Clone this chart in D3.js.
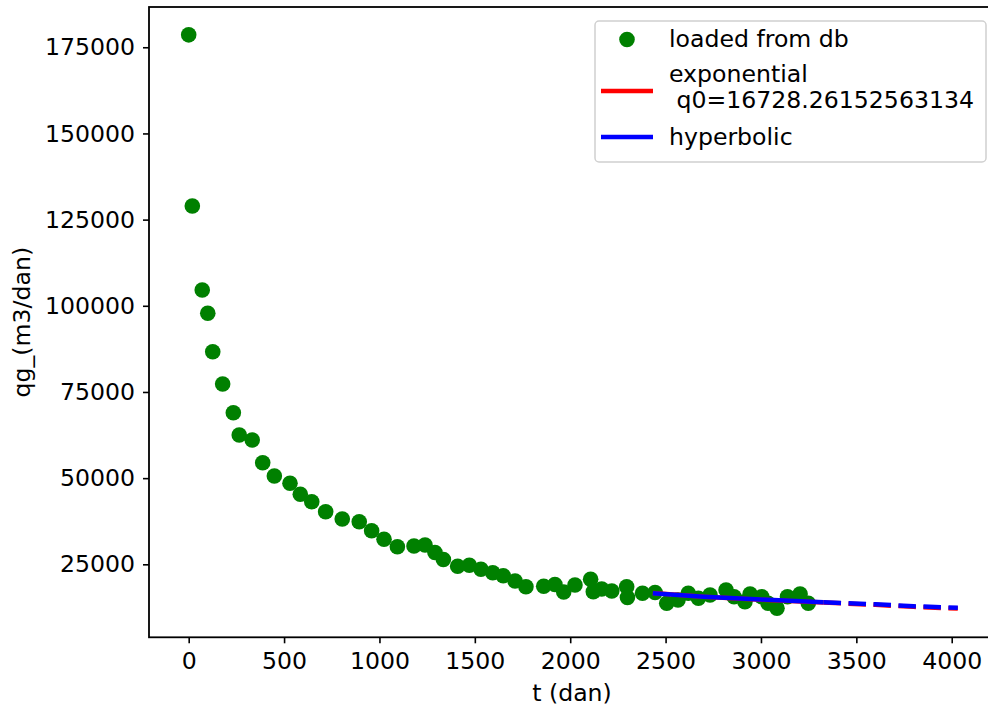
<!DOCTYPE html>
<html>
<head>
<meta charset="utf-8">
<script src="https://cdn.jsdelivr.net/npm/d3@7"></script>
<style>
  body { margin: 0; background: white; }
  text { font-family: "DejaVu Sans", sans-serif; }
</style>
</head>
<body>
<div id="chart"></div>
<script>
// data
var tDays = [0, 19, 71, 100, 126, 178, 234, 265, 333, 388, 449, 531, 585, 645, 718, 805, 894, 959, 1024, 1094,
             1181, 1239, 1291, 1335, 1410, 1471, 1532, 1594, 1649, 1711, 1768, 1861, 1920, 1966, 2025, 2107, 2121, 2165, 2218, 2296,
             2300, 2379, 2445, 2506, 2565, 2619, 2672, 2733, 2817, 2859, 2916, 2943, 3004, 3037, 3084, 3139, 3205, 3248];
var qgValues = [178600, 128950, 104580, 97820, 86680, 77310, 68990, 62520, 61070, 54480, 50620, 48500, 45310, 43170, 40270, 38150, 37370, 34750, 32260, 30110,
                30310, 30610, 28430, 26400, 24430, 24720, 23560, 22570, 21670, 20160, 18510, 18620, 19150, 16970, 19000, 20660, 17060, 17840, 17260, 18510,
                15380, 16590, 16830, 13690, 14650, 16590, 15140, 16100, 17550, 15610, 14160, 16390, 15610, 13690, 12240, 15610, 16390, 13690];

// fitted curves (fit range solid, forecast dashed)
var expFitT = [2433, 2700, 3000, 3328];
var expFitQ = [16700, 15560, 14720, 13900];
var expPredT = [3328, 3600, 3800, 4032];
var expPredQ = [13900, 13250, 12660, 12150];
var hypFitT = [2433, 2700, 3000, 3328];
var hypFitQ = [16594, 15578, 14795, 13983];
var hypPredT = [3328, 3600, 3800, 4032];
var hypPredQ = [13983, 13403, 12822, 12416];

var xTicks = [0, 500, 1000, 1500, 2000, 2500, 3000, 3500, 4000];
var yTicks = [25000, 50000, 75000, 100000, 125000, 150000, 175000];
var legendLabels = ["loaded from db", "exponential\n q0=16728.26152563134", "hyperbolic"];

var fs = 23.6;
var plotL = 149, plotT = 7, plotR = 997.5, plotB = 637.3;

var svg = d3.select("#chart")
            .append("svg")
            .attr("width", 988)
            .attr("height", 715)
            .style("background", "white");

var xScale = d3.scaleLinear()
               .domain([-208.1, 4240])
               .range([plotL, plotR]);
var yScale = d3.scaleLinear()
               .domain([3829, 186680])
               .range([plotB, plotT]);

// axes
var xAxis = svg.append("g")
               .attr("transform", "translate(0," + plotB + ")")
               .call(d3.axisBottom(xScale).tickValues(xTicks).tickFormat(d3.format("d"))
                     .tickSize(6).tickSizeOuter(0).tickPadding(9));
var yAxis = svg.append("g")
               .attr("transform", "translate(" + plotL + ",0)")
               .call(d3.axisLeft(yScale).tickValues(yTicks).tickFormat(d3.format("d"))
                     .tickSize(6).tickSizeOuter(0).tickPadding(8));
[xAxis, yAxis].forEach(function(a) {
    a.select(".domain").remove();
    a.selectAll(".tick line").attr("stroke", "black").attr("stroke-width", 1.6);
    a.selectAll(".tick text").style("font-size", fs + "px").attr("fill", "#000");
});

// scatter
var pts = tDays.map(function(t, i) { return {t: t, q: qgValues[i]}; });
svg.append("g")
   .selectAll("circle")
   .data(pts)
   .enter()
   .append("circle")
   .attr("cx", d => xScale(d.t))
   .attr("cy", d => yScale(d.q))
   .attr("r", 7.8)
   .style("fill", "green");

function curve(ts, qs) {
    return ts.map(function(t, i) { return [t, qs[i]]; });
}
var line = d3.line()
             .x(d => xScale(d[0]))
             .y(d => yScale(d[1]));

function drawCurve(ts, qs, color, dashed) {
    svg.append("path")
       .attr("d", line(curve(ts, qs)))
       .attr("fill", "none")
       .attr("stroke", color)
       .attr("stroke-width", 4.5)
       .attr("stroke-dasharray", dashed ? "17.5,7.5" : null);
}
drawCurve(expFitT, expFitQ, "red", false);
drawCurve(expPredT, expPredQ, "red", true);
drawCurve(hypFitT, hypFitQ, "blue", false);
drawCurve(hypPredT, hypPredQ, "blue", true);

// frame
svg.append("rect")
   .attr("x", plotL)
   .attr("y", plotT)
   .attr("width", plotR - plotL)
   .attr("height", plotB - plotT)
   .attr("fill", "none")
   .attr("stroke", "black")
   .attr("stroke-width", 1.8);

// axis labels
svg.append("text")
   .attr("x", 572)
   .attr("y", 701)
   .attr("text-anchor", "middle")
   .style("font-size", fs + "px")
   .text("t (dan)");
svg.append("text")
   .attr("transform", "translate(29.5," + (plotT + plotB) / 2 + ") rotate(-90)")
   .attr("text-anchor", "middle")
   .style("font-size", fs + "px")
   .text("qg_(m3/dan)");

// legend
var legend = svg.append("g");
legend.append("rect")
      .attr("x", 595)
      .attr("y", 21)
      .attr("width", 391)
      .attr("height", 141)
      .attr("rx", 4)
      .attr("fill", "white")
      .attr("fill-opacity", 0.8)
      .attr("stroke", "#d0d0d0")
      .attr("stroke-width", 1.5);
legend.append("circle")
      .attr("cx", 627)
      .attr("cy", 39.5)
      .attr("r", 7.8)
      .style("fill", "green");
legend.append("line")
      .attr("x1", 601).attr("x2", 653)
      .attr("y1", 91).attr("y2", 91)
      .attr("stroke", "red")
      .attr("stroke-width", 4.5);
legend.append("line")
      .attr("x1", 601).attr("x2", 653)
      .attr("y1", 137).attr("y2", 137)
      .attr("stroke", "blue")
      .attr("stroke-width", 4.5);

var rows = [[legendLabels[0], 46.7], [legendLabels[1].split("\n")[0], 81.7], [legendLabels[1].split("\n")[1], 108.3], [legendLabels[2], 145]];
for (let j = 0; j < rows.length; j++) {
    legend.append("text")
          .attr("x", 669)
          .attr("y", rows[j][1])
          .style("font-size", fs + "px")
          .style("white-space", "pre")
          .text(rows[j][0]);
}
</script>
</body>
</html>
